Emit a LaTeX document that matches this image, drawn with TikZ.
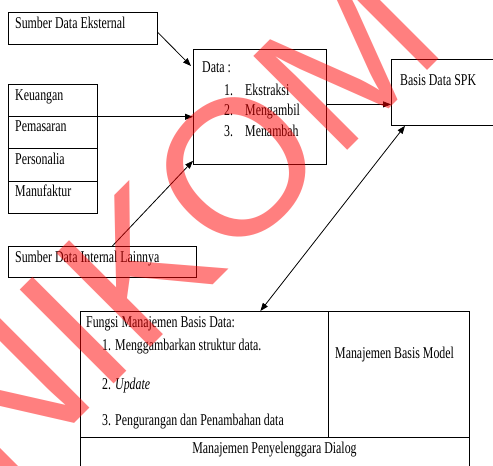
\documentclass[tikz,border=0pt]{standalone}
\usepackage{fontspec}
\setmainfont[FakeStretch=0.72]{Liberation Serif}
\newfontfamily\wmfont{Liberation Sans}
\usetikzlibrary{arrows.meta,calc}
\begin{document}
\begin{tikzpicture}[x=1pt,y=-1pt, font=\fontsize{16.5}{20}\selectfont,
  box/.style={draw=black, line width=0.8pt, inner sep=0pt, anchor=north west},
  txt/.style={anchor=base west, inner sep=0pt},
  arr/.style={line width=0.8pt, -{Triangle[length=8pt,width=6pt]}},
  darr/.style={line width=0.8pt, {Triangle[length=8pt,width=6pt]}-{Triangle[length=8pt,width=6pt]}},
  wm/.style={rotate=45, anchor=base west, inner sep=0pt, text=red, text opacity=0.5,
    font=\wmfont\fontsize{193}{193}\selectfont}]
\useasboundingbox (0,0) rectangle (493,466);
\begin{scope}
\clip (0,0) rectangle (493,466);
% boxes
\node[box, minimum width=149pt, minimum height=32pt] (ext) at (8,12) {};
\node[box, minimum width=133pt, minimum height=115pt] (data) at (193,49) {};
\node[box, minimum width=104pt, minimum height=66pt] (spk) at (391,59) {};
\node[box, minimum width=89pt, minimum height=32pt] (keu) at (8,84) {};
\node[box, minimum width=89pt, minimum height=32pt] (pem) at (8,116) {};
\node[box, minimum width=89pt, minimum height=33pt] (per) at (8,148) {};
\node[box, minimum width=89pt, minimum height=32pt] (man) at (8,181) {};
\node[box, minimum width=188pt, minimum height=31pt] (int) at (8,246) {};
\node[box, minimum width=248pt, minimum height=126pt] (fungsi) at (80,311) {};
\node[box, minimum width=141pt, minimum height=126pt] (model) at (328,311) {};
\node[box, minimum width=389pt, minimum height=40pt] (dialog) at (80,437) {};
% texts
\node[txt] (text) at (15,28) {Sumber Data Eksternal};
\node[txt] (tdata) at (202,72.5) {Data :};
\node[txt] (n1) at (224,95) {1.};
\node[txt] (i1) at (245,95) {Ekstraksi};
\node[txt] (n2) at (224,115.5) {2.};
\node[txt] (i2) at (245,115.5) {Mengambil};
\node[txt] (n3) at (224,136) {3.};
\node[txt] (i3) at (245,136) {Menambah};
\node[txt] (tspk) at (400,85) {Basis Data SPK};
\node[txt] (tkeu) at (15,100) {Keuangan};
\node[txt] (tpem) at (15,131.5) {Pemasaran};
\node[txt] (tper) at (15,164) {Personalia};
\node[txt] (tman) at (15,196.5) {Manufaktur};
\node[txt] (tint) at (15,262) {Sumber Data Internal Lainnya};
\node[txt] (tf) at (86,327) {Fungsi Manajemen Basis Data:};
\node[txt] (f1n) at (102,350) {1.};
\node[txt] (f1) at (115,350) {Menggambarkan struktur data.};
\node[txt] (f2n) at (102,389) {2.};
\node[txt] (f2) at (115,389) {\textit{Update}};
\node[txt] (f3n) at (102,425) {3.};
\node[txt] (f3) at (115,425) {Pengurangan dan Penambahan data};
\node[txt] (tmodel) at (335,358) {Manajemen Basis Model};
\node[anchor=base, inner sep=0pt] (tdialog) at (274.5,453) {Manajemen Penyelenggara Dialog};
% connectors
\draw[arr] ([yshift=-4pt]ext.east) -- ([xshift=-2pt,yshift=-17pt]data.north west);
\draw[arr] (keu.south east) -- (keu.south east -| data.west);
\draw[arr] ([xshift=10pt]int.north) -- ([yshift=4pt]data.south west);
\draw[arr] ([yshift=2.5pt]data.east) -- ([yshift=2.5pt]data.east -| spk.west);
\draw[darr] ([xshift=14pt]spk.south west) -- ([xshift=56pt]fungsi.north);
% watermark
\node[wm] (wmark) at (-96,594) {UNIKOM};
\end{scope}
\end{tikzpicture}
\end{document}
